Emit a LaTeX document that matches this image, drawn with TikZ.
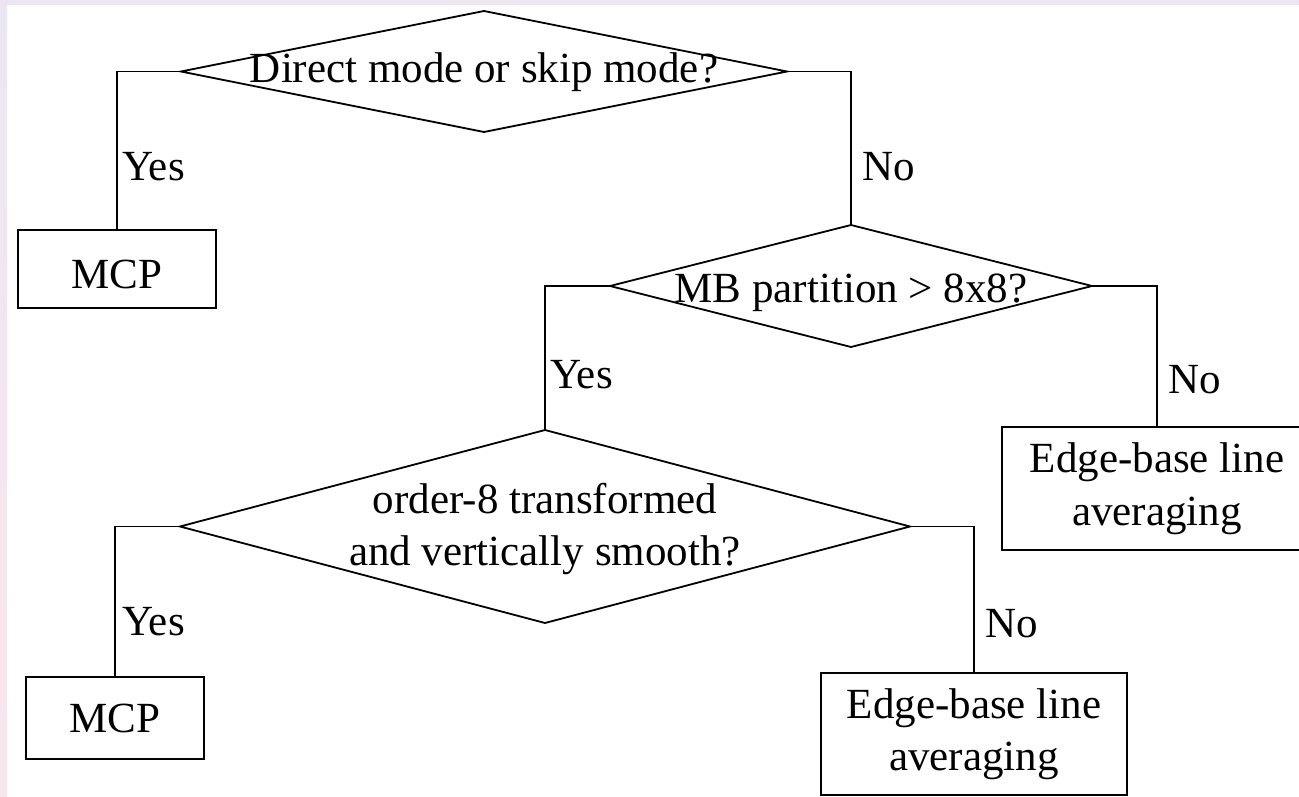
\documentclass[tikz,border=0pt]{standalone}
\usepackage{fontspec}
\setmainfont{Liberation Serif}
\usetikzlibrary{shapes.geometric}
\definecolor{lav}{RGB}{236,230,242}
\definecolor{pinkish}{RGB}{250,230,238}
\begin{document}
\begin{tikzpicture}[x=1pt,y=-1pt,
  every node/.style={font=\fontsize{43}{52.5}\selectfont},
  dia/.style={draw, diamond, line width=1.8pt, inner sep=0pt, outer sep=0pt},
  box/.style={draw, rectangle, line width=1.8pt, inner sep=0pt, outer sep=0pt, align=center},
  conn/.style={line width=1.8pt},
  lbl/.style={anchor=base west, inner sep=0pt},
  qtext/.style={inner sep=0pt, align=center}]
\useasboundingbox (0,0) rectangle (1299,797);
\clip (0,0) rectangle (1299,797);
\fill[white] (0,0) rectangle (1299,797);
\shade[top color=lav, bottom color=pinkish] (0,0) rectangle (7,797);
\fill[lav] (0,0) rectangle (1299,5);

% decisions
\node[dia, minimum width=606pt, minimum height=121pt] (d1) at (484,71.5) {};
\node[dia, minimum width=482pt, minimum height=122pt] (d2) at (851,286) {};
\node[dia, minimum width=730pt, minimum height=193pt] (d3) at (545,526.5) {};
\node[qtext, anchor=base] (t1) at (484,83) {Direct mode or skip mode?};
\node[qtext, anchor=base] (t2) at (851,302) {MB partition > 8x8?};
\node[qtext] (t3) at (545,529) {order-8 transformed\\and vertically smooth?};

% outcomes
\node[box, minimum width=198pt, minimum height=78pt, text height=39pt, text depth=0pt] (mcp1) at (117,269) {MCP};
\node[box, minimum width=178pt, minimum height=82pt] (mcp2) at (115,718) {MCP};
\node[box, minimum width=310pt, minimum height=123pt] (edge1) at (1157,488.5) {Edge-base line\\averaging};
\node[box, minimum width=306pt, minimum height=122pt] (edge2) at (974,734) {Edge-base line\\averaging};

% connectors
\draw[conn] (d1.west) -| (mcp1.north);
\draw[conn] (d1.east) -| (d2.north);
\draw[conn] (d2.west) -| (d3.north);
\draw[conn] (d2.east) -| (edge1.north);
\draw[conn] (d3.west) -| (mcp2.north);
\draw[conn] (d3.east) -| (edge2.north);

% labels
\node[lbl] (y1) at (122,180) {Yes};
\node[lbl] (n1) at (862,180) {No};
\node[lbl] (y2) at (550,388) {Yes};
\node[lbl] (n2) at (1168,393) {No};
\node[lbl] (y3) at (122,635) {Yes};
\node[lbl] (n3) at (985,637) {No};
\end{tikzpicture}
\end{document}
